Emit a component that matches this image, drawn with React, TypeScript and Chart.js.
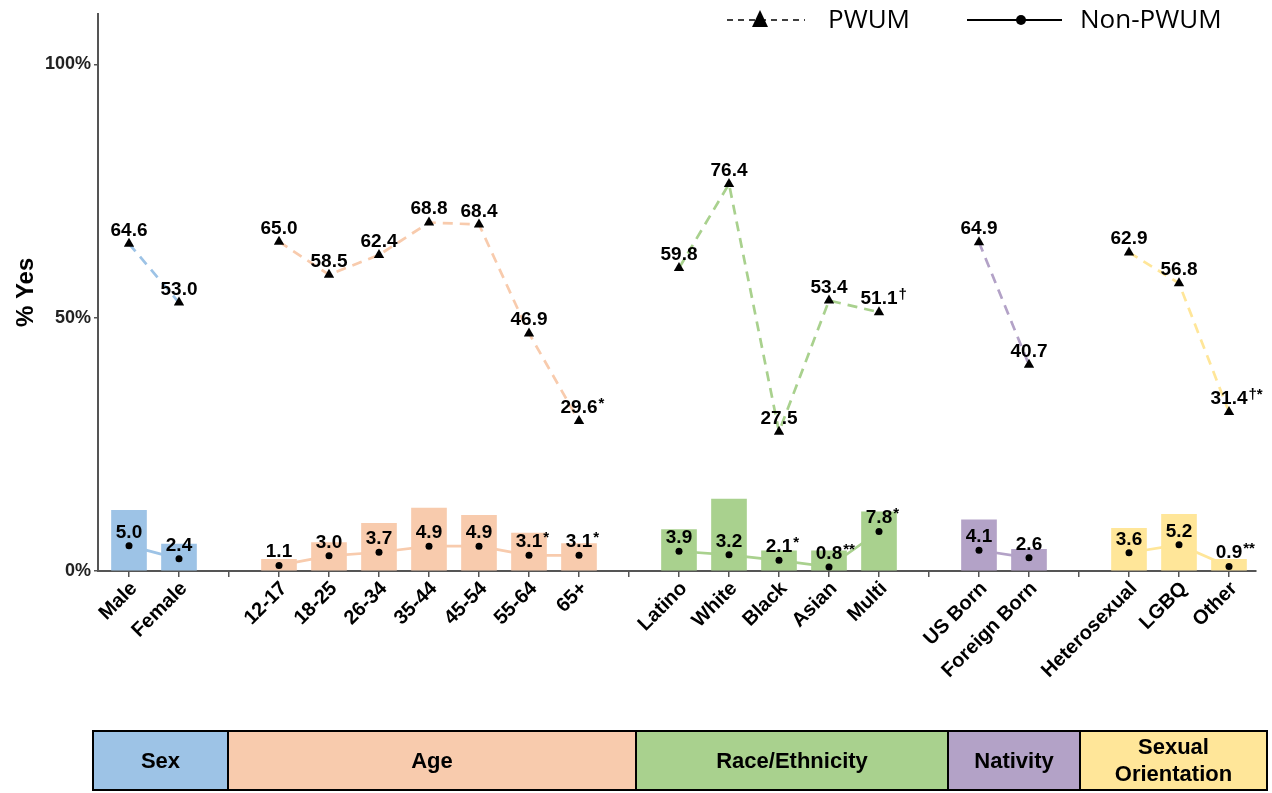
import React, { useEffect, useRef } from 'react';
import { Chart, registerables } from 'chart.js';
Chart.register(...registerables);

// ---- data ----
const slotLabels = ['Male', 'Female', '', '12-17', '18-25', '26-34', '35-44', '45-54', '55-64', '65+', '', 'Latino', 'White', 'Black', 'Asian', 'Multi', '', 'US Born', 'Foreign Born', '', 'Heterosexual', 'LGBQ', 'Other'];
const slotGroup = [0, 0, -1, 1, 1, 1, 1, 1, 1, 1, -1, 2, 2, 2, 2, 2, -1, 3, 3, -1, 4, 4, 4];
const pwumValues = [64.6, 53.0, null, 65.0, 58.5, 62.4, 68.8, 68.4, 46.9, 29.6, null, 59.8, 76.4, 27.5, 53.4, 51.1, null, 64.9, 40.7, null, 62.9, 56.8, 31.4];
const pwumNotes = ['', '', '', '', '', '', '', '', '', '*', '', '', '', '', '', '\u2020', '', '', '', '', '', '', '\u2020*'];
const nonPwumValues = [5.0, 2.4, null, 1.1, 3.0, 3.7, 4.9, 4.9, 3.1, 3.1, null, 3.9, 3.2, 2.1, 0.8, 7.8, null, 4.1, 2.6, null, 3.6, 5.2, 0.9];
const nonPwumNotes = ['', '', '', '', '', '', '', '', '*', '*', '', '', '', '*', '**', '*', '', '', '', '', '', '', '**'];
const barValues = [12.0, 5.3, null, 2.3, 5.6, 9.4, 12.4, 11.0, 7.5, 5.4, null, 8.2, 14.2, 4.0, 4.0, 11.7, null, 10.1, 4.3, null, 8.4, 11.2, 2.3];
const groupNames = ['Sex', 'Age', 'Race/Ethnicity', 'Nativity', 'Sexual\nOrientation'];
const groupColors = ['#9DC3E6', '#F8CBAD', '#A9D18E', '#B3A2C7', '#FFE699'];
const groupBounds = [-0.72, 1.98, 10.14, 16.38, 19.02, 22.76];
const yTicks = [0, 50, 100];
const seriesNames = ['PWUM', 'Non-PWUM'];

const SANS = '"Liberation Sans", Arial, sans-serif';

const toPoints = (arr: (number | null)[]) => arr.map((v, i) => ({ x: i, y: v }));
const segColor = (ctx: any) => {
  const g = slotGroup[ctx.p0DataIndex];
  return g >= 0 ? groupColors[g] : 'transparent';
};

const valueLabels = {
  id: 'valueLabels',
  afterDatasetsDraw(chart: any) {
    const ctx = chart.ctx;
    const sets: [number, (number | null)[], string[]][] = [
      [0, pwumValues, pwumNotes],
      [1, nonPwumValues, nonPwumNotes],
    ];
    ctx.save();
    sets.forEach(([di, vals, notes]) => {
      const meta = chart.getDatasetMeta(di);
      meta.data.forEach((el: any, i: number) => {
        const v = vals[i];
        if (v == null) return;
        const txt = v.toFixed(1);
        const y = el.y - 8;
        ctx.font = `bold 19px ${SANS}`;
        ctx.textAlign = 'center';
        ctx.textBaseline = 'alphabetic';
        ctx.fillStyle = '#000';
        ctx.fillText(txt, el.x, y);
        if (notes[i]) {
          const w = ctx.measureText(txt).width;
          ctx.font = `bold 15px ${SANS}`;
          ctx.textAlign = 'left';
          ctx.fillText(notes[i], el.x + w / 2 + 1, y - 5);
        }
      });
    });
    ctx.restore();
  },
};

const groupBoxes = {
  id: 'groupBoxes',
  afterDraw(chart: any) {
    const ctx = chart.ctx;
    const xs = chart.scales.x;
    const top = chart.chartArea.bottom + 160;
    const h = 59;
    ctx.save();
    for (let g = 0; g < groupNames.length; g++) {
      const x0 = xs.getPixelForValue(groupBounds[g]);
      const x1 = xs.getPixelForValue(groupBounds[g + 1]);
      ctx.fillStyle = groupColors[g];
      ctx.fillRect(x0, top, x1 - x0, h);
      ctx.strokeStyle = '#000';
      ctx.lineWidth = 2;
      ctx.strokeRect(x0, top, x1 - x0, h);
      const lines = groupNames[g].split('\n');
      ctx.fillStyle = '#000';
      ctx.font = `bold 22px ${SANS}`;
      ctx.textAlign = 'center';
      ctx.textBaseline = 'middle';
      const lh = 27;
      const cy = top + h / 2 + 1 - ((lines.length - 1) * lh) / 2;
      lines.forEach((ln, k) => ctx.fillText(ln, (x0 + x1) / 2, cy + k * lh));
    }
    ctx.restore();
  },
};

const topLegend = {
  id: 'topLegend',
  afterDraw(chart: any) {
    const ctx = chart.ctx;
    const right = chart.width;
    const cy = 20;
    ctx.save();
    ctx.strokeStyle = '#000';
    ctx.fillStyle = '#000';
    // PWUM
    const a0 = right - 545, a1 = right - 467, am = right - 512;
    ctx.lineWidth = 1.6;
    ctx.setLineDash([6, 5]);
    ctx.beginPath();
    ctx.moveTo(a0, cy);
    ctx.lineTo(a1, cy);
    ctx.stroke();
    ctx.setLineDash([]);
    ctx.beginPath();
    ctx.moveTo(am, cy - 10);
    ctx.lineTo(am + 8, cy + 7);
    ctx.lineTo(am - 8, cy + 7);
    ctx.closePath();
    ctx.fill();
    ctx.font = `26px "Open Sans", sans-serif`;
    ctx.textAlign = 'left';
    ctx.textBaseline = 'middle';
    ctx.fillText(seriesNames[0], right - 444, cy + 1);
    // Non-PWUM
    const b0 = right - 305, b1 = right - 210, bm = right - 251;
    ctx.lineWidth = 1.8;
    ctx.beginPath();
    ctx.moveTo(b0, cy);
    ctx.lineTo(b1, cy);
    ctx.stroke();
    ctx.beginPath();
    ctx.arc(bm, cy, 5, 0, Math.PI * 2);
    ctx.fill();
    ctx.fillText(seriesNames[1], right - 192, cy + 1);
    ctx.restore();
  },
};

export default function App() {
  const ref = useRef<HTMLCanvasElement | null>(null);
  useEffect(() => {
    if (!ref.current) return;
    const chart = new Chart(ref.current, {
      type: 'bar',
      data: {
        datasets: [
          {
            type: 'line',
            label: seriesNames[0],
            data: toPoints(pwumValues),
            borderDash: [10, 7],
            borderWidth: 2.7,
            borderColor: '#999',
            segment: { borderColor: segColor },
            pointStyle: 'triangle',
            pointRadius: 6,
            pointBackgroundColor: '#000',
            pointBorderColor: '#000',
            pointBorderWidth: 0,
            spanGaps: false,
            order: 1,
          } as any,
          {
            type: 'line',
            label: seriesNames[1],
            data: toPoints(nonPwumValues),
            borderWidth: 2.7,
            borderColor: '#999',
            segment: { borderColor: segColor },
            pointStyle: 'circle',
            pointRadius: 3.5,
            pointBackgroundColor: '#000',
            pointBorderColor: '#000',
            pointBorderWidth: 0,
            spanGaps: false,
            order: 2,
          } as any,
          {
            type: 'bar',
            label: 'bars',
            data: toPoints(barValues),
            backgroundColor: slotGroup.map((g) => (g >= 0 ? groupColors[g] : 'transparent')),
            barThickness: 35,
            order: 3,
          } as any,
        ],
      },
      options: {
        animation: false,
        responsive: true,
        maintainAspectRatio: false,
        layout: { padding: { top: 10, right: 16, left: 0, bottom: 0 } },
        plugins: { legend: { display: false }, tooltip: { enabled: false } },
        scales: {
          x: {
            type: 'linear',
            offset: false,
            min: -0.62,
            max: 22.54,
            afterBuildTicks: (s: any) => {
              s.ticks = slotLabels.map((_, i) => ({ value: i }));
            },
            afterFit: (s: any) => {
              s.height = 222;
            },
            ticks: {
              autoSkip: false,
              minRotation: 45,
              maxRotation: 45,
              padding: 0,
              labelOffset: 5,
              color: '#000',
              font: { family: SANS, weight: 'bold', size: 20 },
              callback: (_v: any, i: number) => slotLabels[i] ?? '',
            },
            grid: { offset: false, drawOnChartArea: false, drawTicks: true, tickLength: 6, color: '#555', lineWidth: 1.5 },
            border: { display: true, color: '#555', width: 2 },
          },
          y: {
            min: 0,
            max: 110,
            afterBuildTicks: (s: any) => {
              s.ticks = yTicks.map((v) => ({ value: v }));
            },
            afterFit: (s: any) => {
              s.width = 98;
            },
            ticks: {
              padding: 3,
              color: '#222',
              font: { family: SANS, weight: 'bold', size: 18 },
              callback: (v: any) => `${v}%`,
            },
            grid: { drawOnChartArea: false, drawTicks: true, tickLength: 4, color: '#555', lineWidth: 1.5 },
            border: { display: true, color: '#555', width: 2 },
            title: {
              display: true,
              text: '% Yes',
              color: '#000',
              font: { family: SANS, weight: 'bold', size: 24 },
              padding: { top: 12, bottom: 0 },
            },
          },
        },
      },
      plugins: [valueLabels, groupBoxes, topLegend],
    } as any);
    return () => chart.destroy();
  }, []);
  return (
    <div style={{ position: 'fixed', left: 0, top: 0, width: 1272, height: 793, background: '#fff' }}>
      <canvas ref={ref} />
    </div>
  );
}
